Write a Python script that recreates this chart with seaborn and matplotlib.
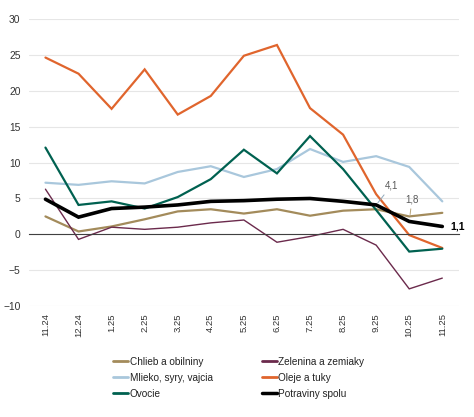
import matplotlib
matplotlib.use("Agg")
import matplotlib.pyplot as plt
import seaborn as sns
import pandas as pd
import numpy as np

months = ["11.24", "12.24", "1.25", "2.25", "3.25", "4.25", "5.25",
          "6.25", "7.25", "8.25", "9.25", "10.25", "11.25"]

chlieb = [2.5, 0.4, 1.1, 2.1, 3.2, 3.5, 2.9, 3.5, 2.6, 3.3, 3.5, 2.5, 3.0]
zelenina = [6.3, -0.7, 1.0, 0.7, 1.0, 1.6, 2.0, -1.1, -0.3, 0.7, -1.5, -7.6, -6.1]
mlieko = [7.2, 6.9, 7.4, 7.1, 8.7, 9.5, 8.0, 9.1, 11.9, 10.1, 10.9, 9.4, 4.6]
oleje = [24.65, 22.4, 17.5, 23.0, 16.7, 19.3, 24.9, 26.4, 17.6, 13.9, 5.6, -0.1, -1.9]
ovocie = [12.1, 4.1, 4.6, 3.6, 5.2, 7.7, 11.8, 8.5, 13.7, 9.1, 3.4, -2.4, -2.0]
spolu = [4.9, 2.4, 3.6, 3.8, 4.1, 4.6, 4.7, 4.9, 5.0, 4.6, 4.1, 1.8, 1.1]

series_names = ["Chlieb a obilniny", "Zelenina a zemiaky", "Mlieko, syry, vajcia",
                "Oleje a tuky", "Ovocie", "Potraviny spolu"]
series_values = [chlieb, zelenina, mlieko, oleje, ovocie, spolu]
colors = ["#A38B5B", "#6B2A4C", "#A9C7DC", "#E0652D", "#006150", "#000000"]
widths = [1.6, 1.0, 1.6, 1.6, 1.6, 2.6]

rows = []
for name, vals in zip(series_names, series_values):
    for i, v in enumerate(vals):
        rows.append({"idx": i, "value": v, "series": name})
df = pd.DataFrame(rows)

sns.set_style("white")
plt.rcParams["font.family"] = ["Liberation Sans", "DejaVu Sans"]

fig = plt.figure(figsize=(4.74, 4.17), dpi=100)
ax = fig.add_axes([0.061, 0.266, 0.907, 0.688])

sns.lineplot(data=df, x="idx", y="value", hue="series", hue_order=series_names,
             palette=dict(zip(series_names, colors)), ax=ax, legend=False)
for line, lw in zip(ax.get_lines(), widths):
    line.set_linewidth(lw)
    line.set_solid_joinstyle("miter")

ax.set_xlim(-0.5, len(months) - 0.5)
ax.set_ylim(-10, 30)
ax.set_yticks(np.arange(-10, 31, 5))
ax.yaxis.grid(True, color="#E6E6E6", linewidth=0.8)
ax.set_axisbelow(True)
ax.tick_params(axis="y", length=0, labelsize=7.4, labelcolor="#333333", pad=6)
for s in ["top", "right", "left"]:
    ax.spines[s].set_visible(False)
ax.spines["bottom"].set_position(("data", 0))
ax.spines["bottom"].set_color("#404040")
ax.spines["bottom"].set_linewidth(0.8)
ax.set_xticks(np.arange(-0.5, len(months), 1.0))
ax.set_xticklabels([])
ax.tick_params(axis="x", direction="out", length=4, color="#404040", width=0.8)
ax.set_xlabel("")
ax.set_ylabel("")

sec = ax.secondary_xaxis(0)
sec.spines["bottom"].set_visible(False)
sec.set_xticks(range(len(months)))
sec.set_xticklabels(months, rotation=90)
sec.tick_params(length=0, labelsize=6.8, labelcolor="#333333", pad=5)

# data labels
ax.annotate(f"{spolu[10]:.1f}".replace(".", ","), xy=(10, spolu[10]), xytext=(11, 14),
            textcoords="offset points", fontsize=7, color="#595959",
            ha="center", va="center",
            arrowprops=dict(arrowstyle="-", color="#8FA9BC", lw=0.7, shrinkA=1, shrinkB=2))
ax.annotate(f"{spolu[11]:.1f}".replace(".", ","), xy=(11, spolu[11]), xytext=(2, 16),
            textcoords="offset points", fontsize=7, color="#595959",
            ha="center", va="center",
            arrowprops=dict(arrowstyle="-", color="#B8A57C", lw=0.7, shrinkA=1, shrinkB=5))
ax.annotate(f"{spolu[12]:.1f}".replace(".", ","), xy=(12, spolu[12]), xytext=(6, 0),
            textcoords="offset points", fontsize=7.6, color="#000000", fontweight="bold",
            ha="left", va="center", annotation_clip=False)

handles = [plt.Line2D([], [], color=c, linewidth=(2.5 if c == "#000000" else 2.0))
           for c in colors]
order = [0, 2, 4, 1, 3, 5]
fig.legend([handles[i] for i in order], [series_names[i] for i in order],
           loc="center", bbox_to_anchor=(0.504, 0.094),
           ncol=2, frameon=False, fontsize=7.2, handlelength=1.5, handletextpad=0.15,
           columnspacing=4.9, labelspacing=0.6, labelcolor="#222222")

fig.savefig("out.png", dpi=100)
